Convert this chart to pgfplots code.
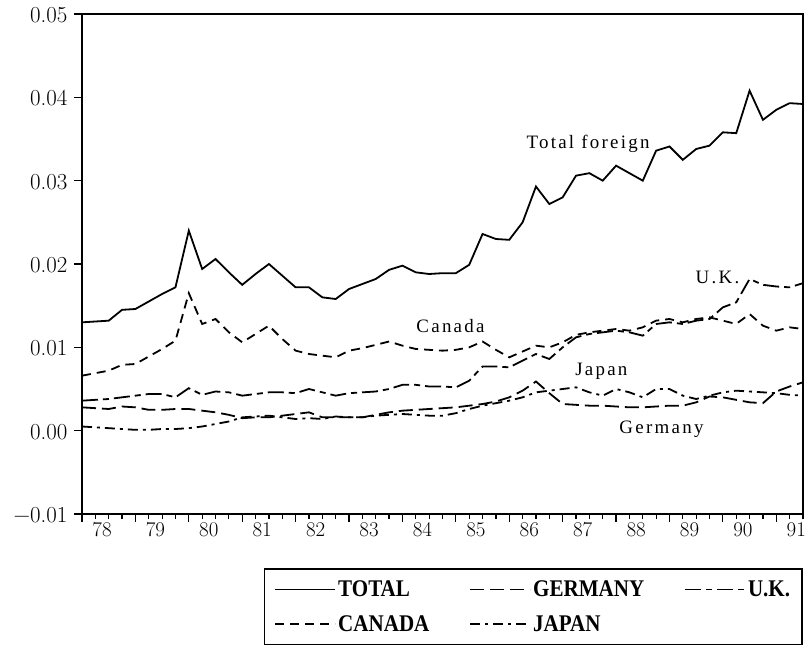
\documentclass[border=0pt]{standalone}
\usepackage{fontspec}
\usepackage{pgfplots}
\usepackage{pgfplotstable}
\pgfplotsset{compat=1.18}
\newfontfamily\annfont[LetterSpace=12]{Liberation Serif}
\newfontfamily\legfont[FakeStretch=0.88]{Liberation Serif}

\pgfplotstableread{
i total germany uk canada japan
0 0.0130 0.0028 0.0036 0.0066 0.0005
1 0.0131 0.0027 0.0037 0.0069 0.0004
2 0.0132 0.0026 0.0038 0.0072 0.0003
3 0.0145 0.0029 0.0040 0.0079 0.0002
4 0.0146 0.0028 0.0042 0.0080 0.0001
5 0.0155 0.0025 0.0044 0.0089 0.0001
6 0.0164 0.0025 0.0044 0.0098 0.0002
7 0.0172 0.0026 0.0040 0.0108 0.0002
8 0.0240 0.0026 0.0051 0.0165 0.0003
9 0.0194 0.0024 0.0043 0.0128 0.0005
10 0.0206 0.0022 0.0047 0.0134 0.0008
11 0.0190 0.0019 0.0046 0.0118 0.0011
12 0.0175 0.0015 0.0042 0.0106 0.0016
13 0.0188 0.0016 0.0044 0.0116 0.0017
14 0.0200 0.0016 0.0046 0.0126 0.0018
15 0.0186 0.0018 0.0046 0.0110 0.0016
16 0.0172 0.0020 0.0045 0.0096 0.0014
17 0.0172 0.0022 0.0050 0.0092 0.0015
18 0.0160 0.0016 0.0046 0.0090 0.0014
19 0.0158 0.0016 0.0042 0.0088 0.0017
20 0.0170 0.0016 0.0045 0.0096 0.0016
21 0.0176 0.0016 0.0046 0.0099 0.0016
22 0.0182 0.0019 0.0047 0.0103 0.0018
23 0.0193 0.0022 0.0050 0.0107 0.0019
24 0.0198 0.0024 0.0055 0.0102 0.0020
25 0.0190 0.0025 0.0055 0.0098 0.0019
26 0.0188 0.0026 0.0053 0.0097 0.0018
27 0.0189 0.0027 0.0053 0.0096 0.0018
28 0.0189 0.0028 0.0052 0.0097 0.0021
29 0.0199 0.0030 0.0060 0.0100 0.0026
30 0.0236 0.0032 0.0077 0.0107 0.0030
31 0.0230 0.0035 0.0077 0.0097 0.0033
32 0.0229 0.0040 0.0076 0.0088 0.0036
33 0.0250 0.0048 0.0084 0.0095 0.0040
34 0.0293 0.0059 0.0092 0.0102 0.0046
35 0.0272 0.0045 0.0086 0.0100 0.0048
36 0.0280 0.0032 0.0100 0.0106 0.0050
37 0.0306 0.0031 0.0112 0.0115 0.0052
38 0.0309 0.0030 0.0116 0.0118 0.0046
39 0.0300 0.0030 0.0118 0.0120 0.0042
40 0.0318 0.0029 0.0120 0.0122 0.0050
41 0.0309 0.0028 0.0118 0.0120 0.0046
42 0.0300 0.0028 0.0114 0.0124 0.0040
43 0.0336 0.0029 0.0128 0.0132 0.0050
44 0.0341 0.0030 0.0130 0.0134 0.0050
45 0.0325 0.0030 0.0128 0.0130 0.0042
46 0.0338 0.0034 0.0132 0.0134 0.0038
47 0.0342 0.0041 0.0134 0.0136 0.0042
48 0.0358 0.0040 0.0148 0.0132 0.0046
49 0.0357 0.0037 0.0154 0.0128 0.0048
50 0.0408 0.0034 0.0182 0.0140 0.0047
51 0.0373 0.0033 0.0175 0.0126 0.0046
52 0.0385 0.0047 0.0173 0.0120 0.0045
53 0.0393 0.0053 0.0172 0.0124 0.0043
54 0.0392 0.0058 0.0177 0.0122 0.0042
}\datatable

\begin{document}
\begin{tikzpicture}
\useasboundingbox (-82bp,-131bp) rectangle (727bp,514bp);
\begin{axis}[
  at={(0,0)}, anchor=south west,
  scale only axis, width=721bp, height=500bp,
  xmin=0, xmax=54, ymin=-0.01, ymax=0.05,
  axis line style={line width=2.5bp},
  tick pos=left, tick align=outside,
  major tick length=8bp, minor tick length=5bp,
  every tick/.style={black, line width=1.2bp},
  ytick={-0.01,0,0.01,0.02,0.03,0.04,0.05},
  yticklabels={−0.01,0.00,0.01,0.02,0.03,0.04,0.05},
  y tick label style={font=\addfontfeatures{LetterSpace=10}\fontsize{23}{26}\selectfont, xshift=-3bp, yshift=-1bp},
  xtick={0,4,...,52}, xticklabels={},
  minor xtick={0,1,...,54},
  extra x ticks={1.5,5.5,...,53.5},
  extra x tick labels={78,79,80,81,82,83,84,85,86,87,88,89,90,91},
  extra x tick style={major tick length=0bp, tick label style={font=\fontsize{21}{24}\selectfont, yshift=-5bp}},
  legend columns=3,
  legend cell align=left,
  legend image code/.code={\draw[#1] (0bp,0bp) -- (60bp,0bp);},
  legend style={at={(rel axis cs:1,-0.108)}, anchor=north east,
    draw=black, line width=1.8bp, font=\legfont\bfseries\fontsize{24}{27}\selectfont,
    inner xsep=10bp, inner ysep=10bp, row sep=13bp,
    /tikz/every even column/.append style={column sep=38bp}},
]
\addplot[black, line width=1.8bp] table[x=i, y=total] {\datatable};
\addlegendentry{TOTAL}
\addplot[black, line width=1.8bp, dash pattern=on 14bp off 6bp] table[x=i, y=germany] {\datatable};
\addlegendentry{GERMANY}
\addplot[black, line width=1.8bp, dash pattern=on 16bp off 5bp on 6bp off 5bp] table[x=i, y=uk] {\datatable};
\addlegendentry{U.K.}
\addplot[black, line width=1.8bp, dash pattern=on 9bp off 6bp] table[x=i, y=canada] {\datatable};
\addlegendentry{CANADA}
\addplot[black, line width=1.8bp, dash pattern=on 10bp off 5bp on 3bp off 5bp] table[x=i, y=japan] {\datatable};
\addlegendentry{JAPAN}
\node[font=\annfont\fontsize{19}{22}\selectfont] at (axis cs:37.9,0.0344) {Total foreign};
\node[font=\annfont\fontsize{19}{22}\selectfont] at (axis cs:27.6,0.0125) {Canada};
\node[font=\annfont\fontsize{19}{22}\selectfont] at (axis cs:47.6,0.0184) {U.K.};
\node[font=\annfont\fontsize{19}{22}\selectfont] at (axis cs:38.9,0.0071) {Japan};
\node[font=\annfont\fontsize{19}{22}\selectfont] at (axis cs:43.4,0.0002) {Germany};
\end{axis}
\end{tikzpicture}
\end{document}
